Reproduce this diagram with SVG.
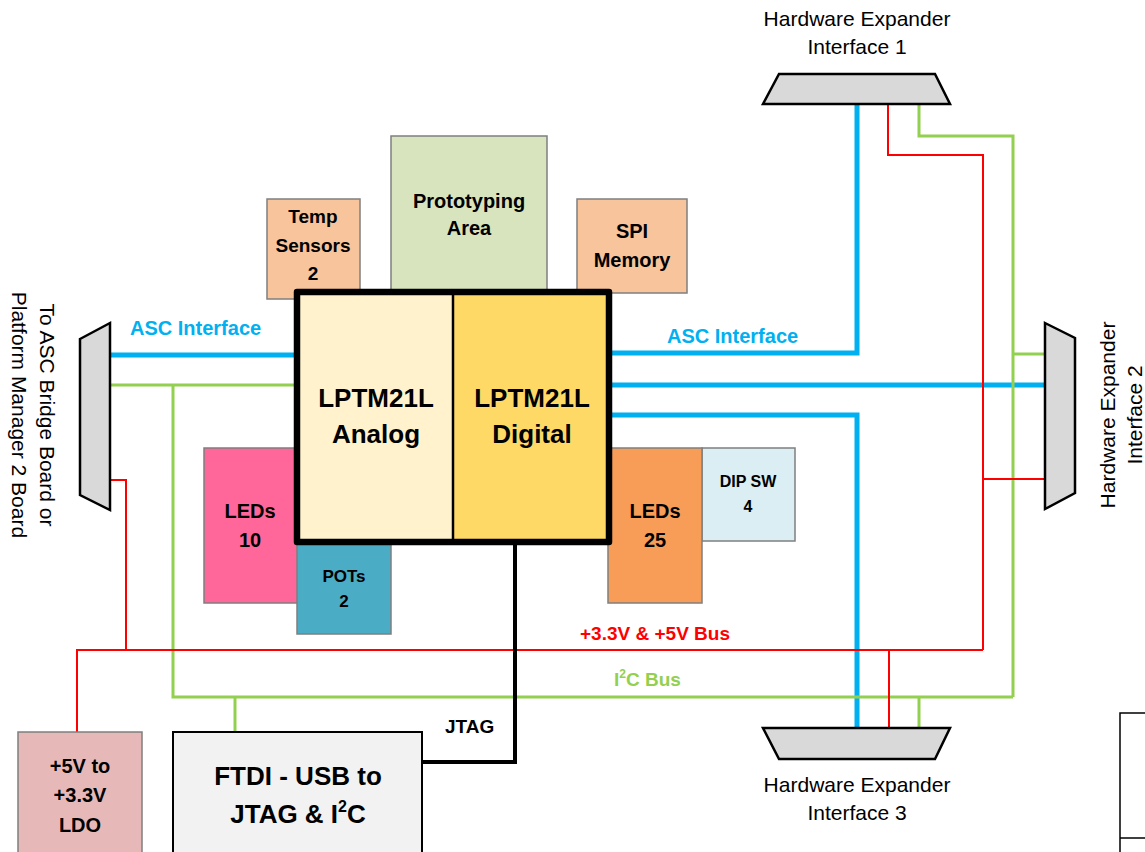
<svg xmlns="http://www.w3.org/2000/svg" width="1145" height="852" viewBox="0 0 1145 852">
<style>
text{font-family:"Liberation Sans",Arial,sans-serif;fill:#000}
.b{font-weight:bold}
.lbl{font-size:21px}
.blk{stroke:#7F7F7F;stroke-width:1.5}
.conn{fill:#D9D9D9;stroke:#000;stroke-width:2.5;stroke-linejoin:miter}
.blue{fill:none;stroke:#00B0F0;stroke-width:5}
.green{fill:none;stroke:#92D050;stroke-width:3}
.red{fill:none;stroke:#FF0000;stroke-width:2}
.jtag{fill:none;stroke:#000;stroke-width:4}
</style>
<rect width="1145" height="852" fill="#fff"/>
<g id="connectors">
<path class="blue" d="M110 355H297"/>
<path class="blue" d="M612 353H857V104"/>
<path class="blue" d="M612 385H1045"/>
<path class="blue" d="M612 415H857V728"/>
<path class="green" d="M110 385H297"/>
<path class="green" d="M173 385V697H1013"/>
<path class="green" d="M919 104V136H1013V697"/>
<path class="green" d="M1013 354H1045"/>
<path class="green" d="M235 697V732"/>
<path class="green" d="M919 697V728"/>
<path class="red" d="M110 480H126V650"/>
<path class="red" d="M77 732V650H983"/>
<path class="red" d="M888 104V155H983V650"/>
<path class="red" d="M983 479H1045"/>
<path class="red" d="M889 650V728"/>
<path class="jtag" d="M422 762H515V545"/>
</g>
<g id="labels">
<text class="b" x="130" y="335" font-size="20" style="fill:#00B0F0">ASC Interface</text>
<text class="b" x="667" y="343" font-size="20" style="fill:#00B0F0">ASC Interface</text>
<text class="b" x="655" y="640" font-size="19" text-anchor="middle" style="fill:#FF0000">+3.3V &amp; +5V Bus</text>
<text class="b" x="614" y="686" font-size="19" style="fill:#92D050">I<tspan font-size="12" dy="-8">2</tspan><tspan dy="8">C Bus</tspan></text>
<text class="b" x="445" y="733" font-size="19">JTAG</text>
</g>
<g id="temp-sensors">
<rect class="blk" x="267" y="199" width="93" height="100" fill="#F8C49C"/>
<text class="b" font-size="19" text-anchor="middle"><tspan x="313" y="223">Temp</tspan><tspan x="313" y="252">Sensors</tspan><tspan x="313" y="280">2</tspan></text>
</g>
<g id="prototyping-area">
<rect class="blk" x="391" y="136" width="156" height="160" fill="#D7E4BD"/>
<text class="b" font-size="20" text-anchor="middle"><tspan x="469" y="208">Prototyping</tspan><tspan x="469" y="235">Area</tspan></text>
</g>
<g id="spi-memory">
<rect class="blk" x="577" y="199" width="110" height="94" fill="#F8C49C"/>
<text class="b" font-size="20" text-anchor="middle"><tspan x="632" y="238">SPI</tspan><tspan x="632" y="267">Memory</tspan></text>
</g>
<g id="leds-10">
<rect class="blk" x="204" y="448" width="96" height="155" fill="#FF6699"/>
<text class="b" font-size="20" text-anchor="middle"><tspan x="250" y="518">LEDs</tspan><tspan x="250" y="547">10</tspan></text>
</g>
<g id="pots">
<rect class="blk" x="297" y="540" width="94" height="94" fill="#4BACC6"/>
<text class="b" font-size="17" text-anchor="middle"><tspan x="344" y="582">POTs</tspan><tspan x="344" y="607">2</tspan></text>
</g>
<g id="dip-sw">
<rect class="blk" x="702" y="448" width="93" height="93" fill="#DAEEF3"/>
<text class="b" font-size="16" text-anchor="middle"><tspan x="748" y="487">DIP SW</tspan><tspan x="748" y="512">4</tspan></text>
</g>
<g id="leds-25">
<rect class="blk" x="608" y="448" width="94" height="155" fill="#F79D57"/>
<text class="b" font-size="20" text-anchor="middle"><tspan x="655" y="518">LEDs</tspan><tspan x="655" y="547">25</tspan></text>
</g>
<g id="lptm21l">
<rect x="297" y="292" width="156" height="250" fill="#FFF2CC"/>
<rect x="453" y="292" width="156" height="250" fill="#FFD966"/>
<line x1="453" y1="292" x2="453" y2="542" stroke="#000" stroke-width="2.5"/>
<rect x="297" y="292" width="312" height="250" fill="none" stroke="#000" stroke-width="6.5" stroke-linejoin="round"/>
<text class="b" font-size="26" text-anchor="middle"><tspan x="376" y="407">LPTM21L</tspan><tspan x="376" y="443">Analog</tspan></text>
<text class="b" font-size="26" text-anchor="middle"><tspan x="532" y="407">LPTM21L</tspan><tspan x="532" y="443">Digital</tspan></text>
</g>
<g id="asc-bridge-connector">
<polygon class="conn" points="80,339 110,323 110,510 80,495"/>
<text class="lbl" transform="translate(40,415) rotate(90)" text-anchor="middle">To ASC Bridge Board or</text>
<text class="lbl" transform="translate(12,415) rotate(90)" text-anchor="middle">Platform Manager 2 Board</text>
</g>
<g id="hw-expander-1">
<polygon class="conn" points="779,74 935,74 950,104 763,104"/>
<text class="lbl" text-anchor="middle"><tspan x="857" y="26">Hardware Expander</tspan><tspan x="857" y="54">Interface 1</tspan></text>
</g>
<g id="hw-expander-2">
<polygon class="conn" points="1045,323 1075,338 1075,493 1045,509"/>
<text class="lbl" transform="translate(1115,415) rotate(-90)" text-anchor="middle">Hardware Expander</text>
<text class="lbl" transform="translate(1142,415) rotate(-90)" text-anchor="middle">Interface 2</text>
</g>
<g id="hw-expander-3">
<polygon class="conn" points="763,728 950,728 935,759 779,759"/>
<text class="lbl" text-anchor="middle"><tspan x="857" y="792">Hardware Expander</tspan><tspan x="857" y="820">Interface 3</tspan></text>
</g>
<g id="ldo">
<rect class="blk" x="18" y="732" width="124" height="130" fill="#E6B9B8"/>
<text class="b" font-size="20" text-anchor="middle"><tspan x="80" y="773">+5V to</tspan><tspan x="80" y="802">+3.3V</tspan><tspan x="80" y="832">LDO</tspan></text>
</g>
<g id="ftdi">
<rect x="173" y="732" width="249" height="130" fill="#F2F2F2" stroke="#000" stroke-width="2"/>
<text class="b" font-size="26" text-anchor="middle"><tspan x="298" y="785">FTDI - USB to</tspan><tspan x="298" y="823">JTAG &amp; I<tspan font-size="16" dy="-11">2</tspan><tspan dy="11">C</tspan></tspan></text>
</g>
<g id="corner-box">
<path d="M1145 713H1120V852M1120 838H1145" fill="none" stroke="#000" stroke-width="1.5"/>
</g>
</svg>
